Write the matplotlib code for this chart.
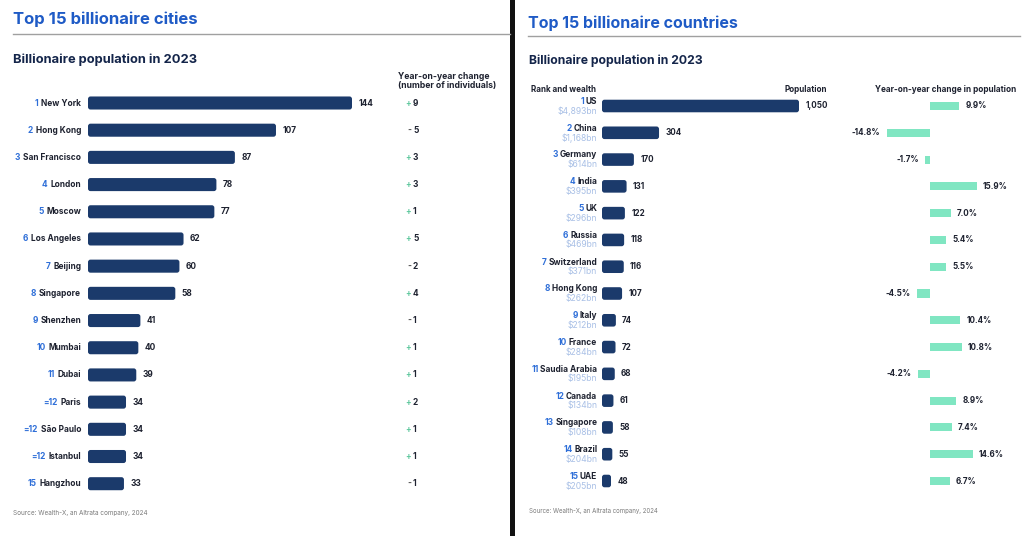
import matplotlib
matplotlib.use("Agg")
import matplotlib.pyplot as plt
from matplotlib.lines import Line2D
from matplotlib.patches import Rectangle, FancyBboxPatch

# データ (都市)
city_rank = ["1", "2", "3", "4", "5", "6", "7", "8", "9", "10", "11", "=12", "=12", "=12", "15"]
city_name = ["New York", "Hong Kong", "San Francisco", "London", "Moscow", "Los Angeles", "Beijing",
             "Singapore", "Shenzhen", "Mumbai", "Dubai", "Paris", "São Paulo", "Istanbul", "Hangzhou"]
city_pop = [144, 107, 87, 78, 77, 62, 60, 58, 41, 40, 39, 34, 34, 34, 33]
city_change = [9, -5, 3, 3, 1, 5, -2, 4, -1, 1, 1, 2, 1, 1, -1]

# データ (国)
country_rank = ["1", "2", "3", "4", "5", "6", "7", "8", "9", "10", "11", "12", "13", "14", "15"]
country_name = ["US", "China", "Germany", "India", "UK", "Russia", "Switzerland", "Hong Kong", "Italy",
                "France", "Saudia Arabia", "Canada", "Singapore", "Brazil", "UAE"]
country_wealth = ["$4,893bn", "$1,168bn", "$614bn", "$395bn", "$296bn", "$469bn", "$371bn", "$262bn",
                  "$212bn", "$284bn", "$195bn", "$134bn", "$108bn", "$204bn", "$205bn"]
country_pop = [1050, 304, 170, 131, 122, 118, 116, 107, 74, 72, 68, 61, 58, 55, 48]
country_change = [9.9, -14.8, -1.7, 15.9, 7.0, 5.4, 5.5, -4.5, 10.4, 10.8, -4.2, 8.9, 7.4, 14.6, 6.7]

# 色
NAVY = "#1b3a6b"
TITLE_BLUE = "#1f5bc6"
RANK_BLUE = "#2f6fd8"
DARK = "#1e2230"
SUB = "#14254a"
WEALTH = "#a9c0e6"
GREEN = "#80e6c2"
GRAY = "#7a7a7a"

plt.rcParams['font.family'] = ['Inter', 'DejaVu Sans']

W, H = 1024, 536
fig = plt.figure(figsize=(W / 100, H / 100), dpi=100)


def fx(px):
    return px / W


def fy(py):
    return 1 - py / H


def make_axes(left, right, top, bottom):
    ax = fig.add_axes([fx(left), fy(bottom), fx(right) - fx(left), (bottom - top) / H])
    ax.axis("off")
    return ax


def round_bars(ax, bars, r_px=2.5):
    # barhの長方形を角丸に置き換える
    p0 = ax.transData.transform((0, 0))
    p1 = ax.transData.transform((1, 1))
    xpp = 1 / abs(p1[0] - p0[0])
    ypp = 1 / abs(p1[1] - p0[1])
    x_min = ax.get_xlim()[0]
    for b in bars:
        x0, y0, w, h = b.get_x(), b.get_y(), b.get_width(), b.get_height()
        x1 = x0 + w
        x0 = max(x0, x_min)
        b.set_visible(False)
        ax.add_patch(FancyBboxPatch((x0, y0), x1 - x0, h,
                                    boxstyle=f"round,pad=0,rounding_size={r_px * xpp}",
                                    mutation_aspect=ypp / xpp, color=b.get_facecolor(), lw=0))


n = len(city_name)
rows = list(range(n))

# ---- 左: 都市 ----
fig.text(fx(13), fy(19), "Top 15 billionaire cities", color=TITLE_BLUE, fontsize=12,
         fontweight="bold", va="center")
fig.add_artist(Line2D([fx(13), fx(510)], [fy(34), fy(34)], color="#a0a0a0", lw=1))
fig.text(fx(13), fy(60), "Billionaire population in 2023", color=SUB, fontsize=9.3,
         fontweight="bold", va="center")
fig.text(fx(398), fy(81), "Year-on-year change\n(number of individuals)", color=DARK, fontsize=6.2,
         fontweight="bold", va="center", linespacing=1.0)

step = (483.7 - 103) / (n - 1)
axL = make_axes(88, 352, 103 - step / 2, 483.7 + step / 2)
barsL = axL.barh(rows, city_pop, height=0.48, color=NAVY)
axL.set_xlim(15.5, 144)
axL.set_ylim(n - 0.5, -0.5)
round_bars(axL, barsL)
for i in rows:
    t = axL.annotate(city_name[i], xy=(0, i), xycoords=("axes fraction", "data"), xytext=(-5, 0),
                     textcoords="offset points", ha="right", va="center", fontsize=6,
                     fontweight="bold", color=DARK)
    axL.annotate(city_rank[i], xy=(0, 0.5), xycoords=t, xytext=(-2, 0), textcoords="offset points",
                 ha="right", va="center", fontsize=6, fontweight="bold", color=RANK_BLUE)
    axL.annotate(str(city_pop[i]), xy=(city_pop[i], i), xytext=(4.5, 0), textcoords="offset points",
                 ha="left", va="center", fontsize=6, fontweight="bold", color=DARK)
    v = city_change[i]
    d = axL.annotate(str(abs(v)), xy=(1, i), xycoords=("axes fraction", "data"),
                     xytext=((413 - 352) * 0.72, 0), textcoords="offset points",
                     ha="left", va="center", fontsize=6, fontweight="bold", color=DARK)
    axL.annotate("+" if v > 0 else "-", xy=(0, 0.5), xycoords=d, xytext=(-1.5, 0),
                 textcoords="offset points", ha="right", va="center", fontsize=6,
                 fontweight="bold", color="#5cc79c" if v > 0 else "#555555")

fig.text(fx(13), fy(513), "Source: Wealth-X, an Altrata company, 2024", color=GRAY, fontsize=4.6,
         va="center")

# ---- 区切り ----
fig.add_artist(Rectangle((fx(510), 0), fx(515) - fx(510), 1, transform=fig.transFigure,
                         color="#111111", lw=0))

# ---- 右: 国 ----
fig.text(fx(528), fy(23), "Top 15 billionaire countries", color=TITLE_BLUE, fontsize=11.5,
         fontweight="bold", va="center")
fig.add_artist(Line2D([fx(528), fx(1020)], [fy(36), fy(36)], color="#a0a0a0", lw=1))
fig.text(fx(529), fy(61), "Billionaire population in 2023", color=SUB, fontsize=8.8,
         fontweight="bold", va="center")
fig.text(fx(531), fy(89), "Rank and wealth", color=DARK, fontsize=5.8, fontweight="bold", va="center")
fig.text(fx(827), fy(89), "Population", color=DARK, fontsize=5.8, fontweight="bold", va="center",
         ha="right")
fig.text(fx(875), fy(89), "Year-on-year change in population", color=DARK, fontsize=5.9,
         fontweight="bold", va="center")

step2 = (481 - 106) / (n - 1)
axR = make_axes(602, 799, 106 - step2 / 2, 481 + step2 / 2)
barsR = axR.barh(rows, country_pop, height=0.47, color=NAVY)
axR.set_xlim(0, 1050)
axR.set_ylim(n - 0.5, -0.5)
round_bars(axR, barsR)
for i in rows:
    t = axR.annotate(country_name[i], xy=(0, i), xycoords=("axes fraction", "data"), xytext=(-3.5, 3.3),
                     textcoords="offset points", ha="right", va="center", fontsize=6,
                     fontweight="bold", color=DARK)
    axR.annotate(country_rank[i], xy=(0, 0.5), xycoords=t, xytext=(-1.2, 0), textcoords="offset points",
                 ha="right", va="center", fontsize=6, fontweight="bold", color=RANK_BLUE)
    axR.annotate(country_wealth[i], xy=(0, i), xycoords=("axes fraction", "data"), xytext=(-3.5, -3.6),
                 textcoords="offset points", ha="right", va="center", fontsize=6.2, color=WEALTH)
    axR.annotate(f"{country_pop[i]:,}", xy=(country_pop[i], i), xytext=(4.5, 0),
                 textcoords="offset points", ha="left", va="center", fontsize=5.8,
                 fontweight="bold", color=DARK)

fig.text(fx(529), fy(511), "Source: Wealth-X, an Altrata company, 2024", color=GRAY, fontsize=4.4,
         va="center")

# 前年比
axC = make_axes(930 - 20 * 2.93, 930 + 20 * 2.93, 106 - step2 / 2, 481 + step2 / 2)
axC.barh(rows, country_change, height=0.3, color=GREEN)
axC.set_xlim(-20, 20)
axC.set_ylim(n - 0.5, -0.5)
for i in rows:
    v = country_change[i]
    axC.annotate(f"{v:.1f}%", xy=(v, i), xytext=(4.5 if v > 0 else -4.5, 0), textcoords="offset points",
                 ha="left" if v > 0 else "right", va="center", fontsize=5.8, fontweight="bold", color=DARK)

fig.savefig("out.png", dpi=100, facecolor="white")
